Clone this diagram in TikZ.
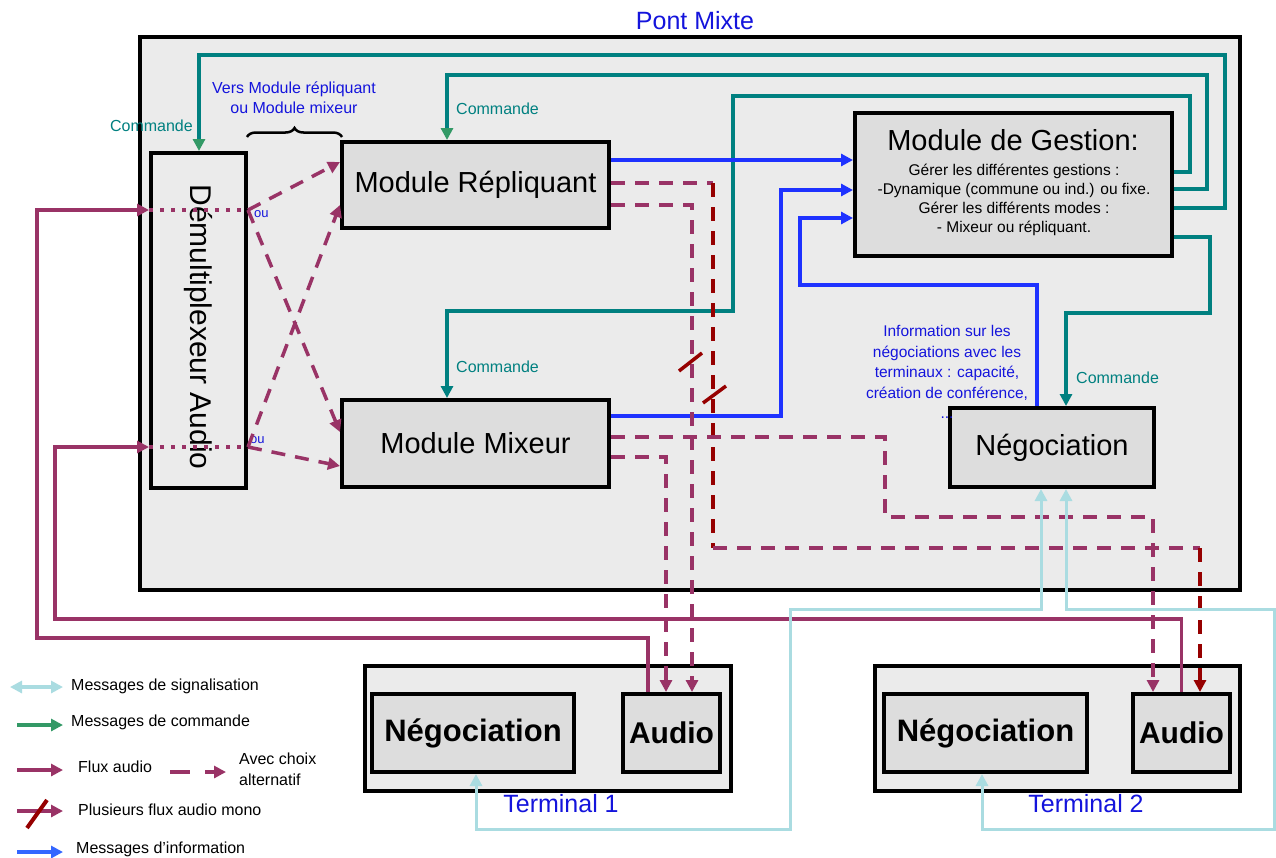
\documentclass[tikz,border=0pt]{standalone}
\usepackage{fontspec}
\setmainfont{Liberation Sans}
\usetikzlibrary{arrows.meta,decorations.pathreplacing}
\definecolor{bggray}{RGB}{235,235,235}
\definecolor{modgray}{RGB}{221,221,221}
\definecolor{tealc}{RGB}{0,128,128}
\definecolor{cmdgreen}{RGB}{51,153,102}
\definecolor{audioc}{RGB}{153,51,102}
\definecolor{monoc}{RGB}{150,0,0}
\definecolor{infoc}{RGB}{30,50,255}
\definecolor{legblue}{RGB}{51,102,255}
\definecolor{sigc}{RGB}{170,220,225}
\definecolor{lblblue}{RGB}{20,20,220}
\newcommand\fsz[2]{\fontsize{#1pt}{#2pt}\selectfont}
\begin{document}
\begin{tikzpicture}[x=1pt,y=-1pt,
  modbox/.style={draw=black,line width=4pt,fill=modgray,inner sep=0pt},
  framebox/.style={draw=black,line width=4.5pt,fill=bggray,inner sep=0pt},
  cmdline/.style={draw=tealc,line width=3.5pt},
  audioline/.style={draw=audioc,line width=3.5pt},
  altline/.style={draw=audioc,line width=3.5pt,dash pattern=on 14pt off 10pt},
  monoline/.style={draw=monoc,line width=3.5pt,dash pattern=on 14pt off 10pt},
  infoline/.style={draw=infoc,line width=3.5pt},
  sigline/.style={draw=sigc,line width=3pt},
  slashmark/.style={draw=monoc,line width=3.5pt},
  tipA/.tip={Triangle[length=12pt,width=12pt]},
  cmdtxt/.style={text=tealc,font=\fsz{16}{18},inner sep=0pt},
  bluetxt/.style={text=lblblue,inner sep=0pt},
  legtxt/.style={font=\fsz{16}{20},inner sep=0pt,anchor=west}]
\useasboundingbox (0,0) rectangle (1276,857);
\fill[white] (0,0) rectangle (1276,857);

% Pont Mixte frame
\node[framebox,minimum width=1100pt,minimum height=553pt] (pont) at (690,313.5) {};
\node[bluetxt,font=\fsz{25}{28}] (ponttitle) at (695,21) {Pont Mixte};

% Terminals
\node[framebox,minimum width=366pt,minimum height=125pt] (term1) at (548,728.5) {};
\node[framebox,minimum width=365pt,minimum height=125pt] (term2) at (1057.5,728.5) {};
\node[modbox,minimum width=202pt,minimum height=78pt,font=\fsz{31}{34}\bfseries] (t1neg) at (473,733) {Négociation};
\node[modbox,minimum width=97pt,minimum height=78pt,font=\fsz{30}{34}\bfseries] (t1aud) at (671.5,733) {Audio};
\node[modbox,minimum width=203pt,minimum height=78pt,font=\fsz{31}{34}\bfseries] (t2neg) at (985.5,733) {Négociation};
\node[modbox,minimum width=97pt,minimum height=78pt,font=\fsz{30}{34}\bfseries] (t2aud) at (1181.5,733) {Audio};
\node[bluetxt,font=\fsz{25}{28}] (t1lbl) at (561,804) {Terminal 1};
\node[bluetxt,font=\fsz{25}{28}] (t2lbl) at (1086,804) {Terminal 2};

% Modules
\node[draw=black,line width=4pt,fill=bggray,minimum width=95pt,minimum height=335pt,inner sep=0pt] (dmx) at (198.5,320.5) {};
\node[font=\fsz{30}{32},rotate=-90,inner sep=0pt] (dmxtxt) at (198,327) {Démultiplexeur Audio};
\node[modbox,minimum width=267pt,minimum height=86pt,font=\fsz{29}{32}] (rep) at (475.5,185) {Module Répliquant};
\node[modbox,minimum width=267pt,minimum height=87pt,font=\fsz{29}{32}] (mix) at (475.5,443.5) {Module Mixeur};
\node[modbox,minimum width=317pt,minimum height=143pt] (gest) at (1013.5,184.5) {};
\node[font=\fsz{29}{32},inner sep=0pt] (gesttitle) at (1013,140) {Module de Gestion:};
\node[font=\fsz{15.5}{19},align=center,inner sep=0pt] (gesttxt) at (1014,200) {Gérer les différentes gestions :\\-Dynamique (commune ou ind.) ou fixe.\\Gérer les différents modes :\\- Mixeur ou répliquant.};
\node[modbox,minimum width=204pt,minimum height=79pt,font=\fsz{29}{32}] (negi) at (1052,447.5) {Négociation};

% Command lines (teal)
\draw[cmdline,-{Triangle[length=12pt,width=12pt,color=tealc]}] (gest.east |- 0,172) -- (1190,172) -- (1190,96) -- (733,96) -- (733,311) -- (447,311) -- (mix.north -| 447,0);
\draw[cmdline,-{Triangle[length=12pt,width=12pt,color=cmdgreen]}] (gest.east |- 0,189) -- (1207,189) -- (1207,75) -- (447,75) -- (rep.north -| 447,0);
\draw[cmdline,-{Triangle[length=12pt,width=12pt,color=cmdgreen]}] (gest.east |- 0,208) -- (1225,208) -- (1225,55) -- (199,55) -- (dmx.north -| 199,0);
\draw[cmdline,-{Triangle[length=12pt,width=12pt,color=tealc]}] (gest.east |- 0,237) -- (1210,237) -- (1210,313) -- (1066,313) -- (negi.north -| 1066,0);
\node[cmdtxt,anchor=east] (c1) at (193,126) {Commande};
\node[cmdtxt,anchor=west] (c2) at (456,109) {Commande};
\node[cmdtxt,anchor=west] (c3) at (456,367) {Commande};
\node[cmdtxt,anchor=west] (c4) at (1076,378) {Commande};

% Information lines (blue)
\draw[infoline,-tipA] (rep.east |- 0,160) -- (gest.west |- 0,160);
\draw[infoline,-tipA] (mix.east |- 0,416) -- (781,416) -- (781,190) -- (gest.west |- 0,190);
\draw[infoline,-tipA] (negi.north -| 1037,0) -- (1037,285) -- (800,285) -- (800,218) -- (gest.west |- 0,218);
\node[bluetxt,font=\fsz{15.5}{20.5},align=center] (infotxt) at (947,372) {Information sur les\\négociations avec les\\terminaux : capacité,\\création de conférence,\\...};

% Braces label
\node[bluetxt,font=\fsz{16}{20},align=center] (verstxt) at (294,98) {Vers Module répliquant\\ou Module mixeur};
\draw[line width=2.5pt,decorate,decoration={brace,amplitude=9pt}] (247,137) -- (342,137);

% Audio solid lines
\draw[audioline,-tipA] (t1aud.north -| 648,0) -- (648,638) -- (37,638) -- (37,210) -- (dmx.west |- 0,210);
\draw[audioline,-tipA] (t2aud.north) -- (1181.5,619) -- (55,619) -- (55,447) -- (dmx.west |- 0,447);
\draw[draw=audioc,line width=3.5pt,dash pattern=on 4pt off 7pt] (dmx.west |- 0,210) -- (dmx.east |- 0,210);
\draw[draw=audioc,line width=3.5pt,dash pattern=on 4pt off 7pt] (dmx.west |- 0,447) -- (dmx.east |- 0,447);
\node[bluetxt,font=\fsz{13}{15},anchor=west] (ou1) at (254,214) {ou};
\node[bluetxt,font=\fsz{13}{15},anchor=west] (ou2) at (250,440) {ou};

% Alternative (dashed) audio
\draw[altline,-tipA] (dmx.east |- 0,210) -- (rep.west |- 0,162);
\draw[altline,-tipA] (dmx.east |- 0,210) -- (mix.west |- 0,432);
\draw[altline,-tipA] (dmx.east |- 0,447) -- (rep.west |- 0,205);
\draw[altline,-tipA] (dmx.east |- 0,447) -- (mix.west |- 0,466);

\draw[altline] (rep.east |- 0,183) -- (713,183);
\draw[monoline] (713,183) -- (713,548);
\draw[altline] (713,548) -- (1200,548);
\draw[monoline,-tipA] (1200,548) -- (t2aud.north -| 1200,0);
\draw[altline,-tipA] (rep.east |- 0,205) -- (692,205) -- (t1aud.north -| 692,0);
\draw[altline,-tipA] (mix.east |- 0,437) -- (885,437) -- (885,517) -- (1153,517) -- (t2aud.north -| 1153,0);
\draw[altline,-tipA] (mix.east |- 0,457) -- (666,457) -- (t1aud.north -| 666,0);
\draw[slashmark] (679,371) -- (702,353);
\draw[slashmark] (703,403) -- (726,386);

% Signalisation lines
\draw[sigline,tipA-tipA] (t1neg.south -| 476,0) -- (476,829) -- (790,829) -- (790,609) -- (1041,609) -- (negi.south -| 1041,0);
\draw[sigline,tipA-tipA] (t2neg.south -| 982,0) -- (982,829) -- (1274,829) -- (1274,609) -- (1066,609) -- (negi.south -| 1066,0);

% Legend
\coordinate (l1a) at (10,687); \coordinate (l1b) at (63,687);
\draw[sigline,line width=4pt,tipA-tipA] (l1a) -- (l1b);
\node[legtxt] (lt1) at (71,686) {Messages de signalisation};
\coordinate (l2a) at (17,725); \coordinate (l2b) at (63,725);
\draw[draw=cmdgreen,line width=4pt,-tipA] (l2a) -- (l2b);
\node[legtxt] (lt2) at (71,722) {Messages de commande};
\coordinate (l3a) at (17,770); \coordinate (l3b) at (63,770);
\draw[audioline,line width=4pt,-tipA] (l3a) -- (l3b);
\node[legtxt] (lt3) at (78,767) {Flux audio};
\coordinate (l4a) at (170,772); \coordinate (l4b) at (226,772);
\draw[draw=audioc,line width=4pt,dash pattern=on 20pt off 15pt,-tipA] (l4a) -- (l4b);
\node[legtxt,align=left,font=\fsz{16}{21}] (lt4) at (239,769) {Avec choix\\alternatif};
\coordinate (l5a) at (17,811); \coordinate (l5b) at (63,811);
\draw[audioline,line width=4pt,-tipA] (l5a) -- (l5b);
\draw[slashmark,line width=4pt] (27,828) -- (47,800);
\node[legtxt] (lt5) at (78,810) {Plusieurs flux audio mono};
\coordinate (l6a) at (17,852); \coordinate (l6b) at (63,852);
\draw[draw=legblue,line width=4pt,-tipA] (l6a) -- (l6b);
\node[legtxt] (lt6) at (76,849) {Messages d'information};
\end{tikzpicture}
\end{document}
